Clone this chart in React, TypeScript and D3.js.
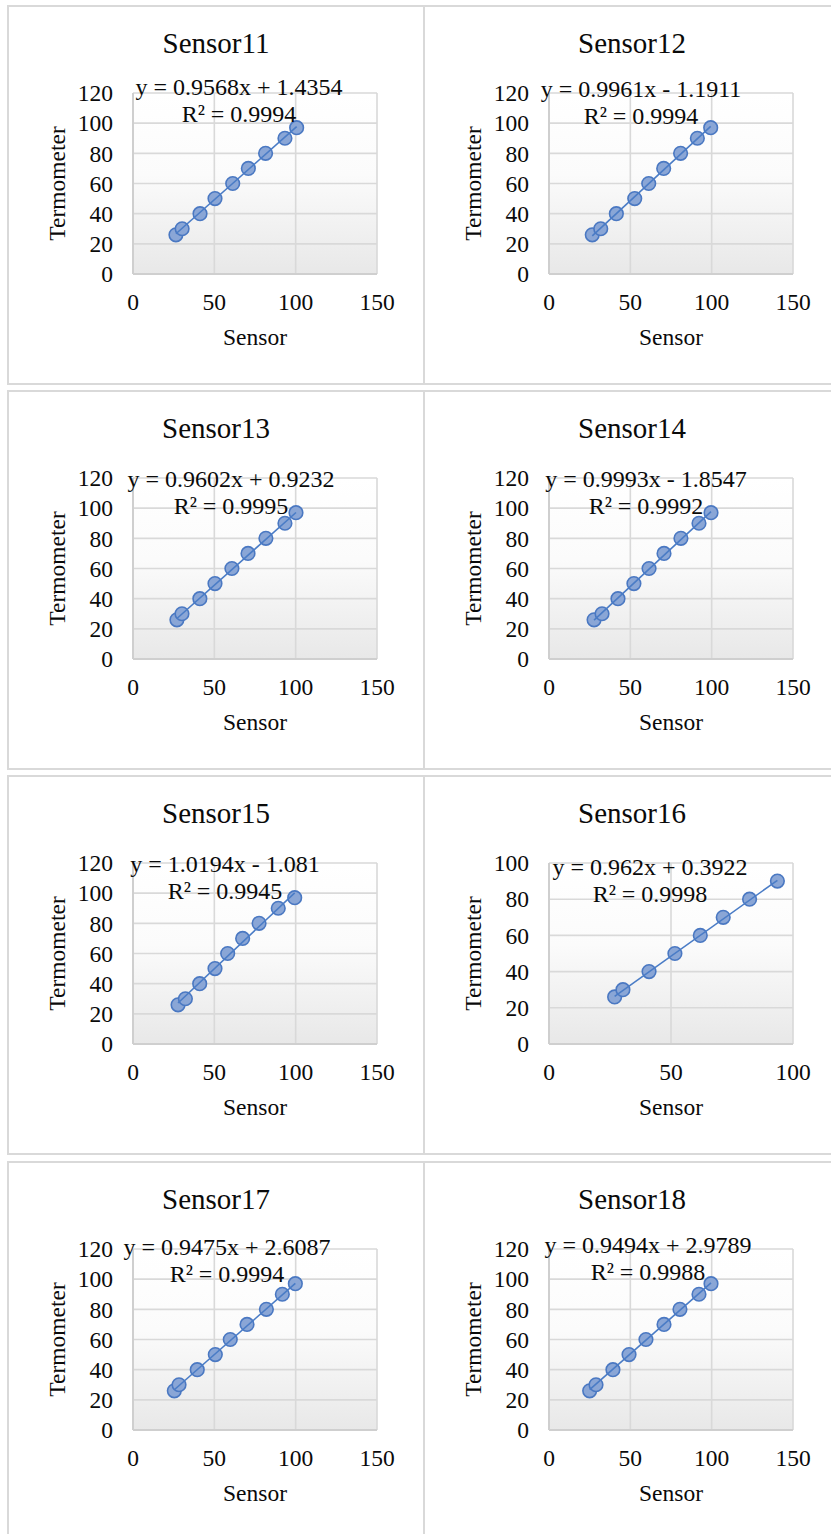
import * as d3 from "d3";

/* ------------------------------------------------------------------ */
/*  Data                                                               */
/* ------------------------------------------------------------------ */

const SENSOR_NAMES = [
  "Sensor11", "Sensor12", "Sensor13", "Sensor14",
  "Sensor15", "Sensor16", "Sensor17", "Sensor18",
];

// thermometer readings (y)
const TERMO_9 = [26, 30, 40, 50, 60, 70, 80, 90, 97];
const TERMO_8 = [26, 30, 40, 50, 60, 70, 80, 90];

// sensor readings (x)
const SENSOR11 = [26.4, 30.2, 41.2, 50.4, 61.3, 70.9, 81.5, 93.4, 100.6];
const SENSOR12 = [26.6, 31.8, 41.4, 52.7, 61.3, 70.5, 80.9, 91.2, 99.4];
const SENSOR13 = [27.0, 30.1, 41.1, 50.4, 60.8, 70.7, 81.7, 93.4, 100.2];
const SENSOR14 = [27.7, 32.6, 42.4, 52.2, 61.5, 70.7, 81.1, 92.2, 99.6];
const SENSOR15 = [27.7, 32.2, 41.0, 50.4, 58.2, 67.4, 77.5, 89.3, 99.4];
const SENSOR16 = [26.9, 30.3, 41.0, 51.6, 62.0, 71.4, 82.2, 93.6];
const SENSOR17 = [25.4, 28.3, 39.5, 50.6, 59.8, 70.1, 82.0, 91.8, 99.8];
const SENSOR18 = [25.0, 28.9, 39.3, 49.2, 59.6, 70.7, 80.5, 92.2, 99.6];

const SENSOR_X = [
  SENSOR11, SENSOR12, SENSOR13, SENSOR14,
  SENSOR15, SENSOR16, SENSOR17, SENSOR18,
];
const TERMO_Y = [
  TERMO_9, TERMO_9, TERMO_9, TERMO_9,
  TERMO_9, TERMO_8, TERMO_9, TERMO_9,
];

// linear trendlines
const SLOPES = [0.9568, 0.9961, 0.9602, 0.9993, 1.0194, 0.962, 0.9475, 0.9494];
const INTERCEPTS = [1.4354, -1.1911, 0.9232, -1.8547, -1.081, 0.3922, 2.6087, 2.9789];
const EQUATIONS = [
  "y = 0.9568x + 1.4354",
  "y = 0.9961x - 1.1911",
  "y = 0.9602x + 0.9232",
  "y = 0.9993x - 1.8547",
  "y = 1.0194x - 1.081",
  "y = 0.962x + 0.3922",
  "y = 0.9475x + 2.6087",
  "y = 0.9494x + 2.9789",
];
const R_SQUARED = [
  "R² = 0.9994", "R² = 0.9994", "R² = 0.9995", "R² = 0.9992",
  "R² = 0.9945", "R² = 0.9998", "R² = 0.9994", "R² = 0.9988",
];

// axis maxima (ticks every 50 on x, every 20 on y)
const X_MAX = [150, 150, 150, 150, 150, 100, 150, 150];
const Y_MAX = [120, 120, 120, 120, 120, 100, 120, 120];

/* ------------------------------------------------------------------ */
/*  Layout / theme                                                     */
/* ------------------------------------------------------------------ */

const W = 831;
const H = 1534;
const FONT = '"Liberation Serif", "Times New Roman", Tinos, "DejaVu Serif", serif';
const BORDER = "#d9d9d9";
const GRID = "#d9d9d9";
const MARK_FILL = "#8aa6d6";
const MARK_STROKE = "#4a78c2";
const LINE = "#4a7cc6";
const INK = "#0a0a0a";
const FS = 23.5;

const COL_X = [8, 424];
const ROW_Y = [6, 391, 776, 1162];
const PANEL_W = 416;
const PANEL_H = 378;

// plot area in panel-local coords
const PL = 125;
const PR = 369;
const PT = 87;
const PB = 268;

// equation label [centerX, baseline of first line], panel-local
const LABEL_POS: [number, number][] = [
  [231, 89], [217, 91], [223, 96], [222, 96],
  [217, 96], [226, 99], [219, 93], [224, 91],
];

/* ------------------------------------------------------------------ */
/*  Panel                                                              */
/* ------------------------------------------------------------------ */

function Panel({ i }: { i: number }) {
  const col = i % 2;
  const row = Math.floor(i / 2);
  const ox = COL_X[col];
  const oy = ROW_Y[row];

  const xs = SENSOR_X[i];
  const ys = TERMO_Y[i];

  const x = d3.scaleLinear().domain([0, X_MAX[i]]).range([PL, PR]);
  const y = d3.scaleLinear().domain([0, Y_MAX[i]]).range([PB, PT]);
  const xTicks = d3.range(0, X_MAX[i] + 1, 50);
  const yTicks = d3.range(0, Y_MAX[i] + 1, 20);

  const [xMin, xMaxData] = d3.extent(xs) as [number, number];
  const trend = d3
    .line<number>()
    .x((d) => x(d))
    .y((d) => y(SLOPES[i] * d + INTERCEPTS[i]));

  const [lx, ly] = LABEL_POS[i];
  const gradId = `plotbg-${i}`;
  const h = row === 3 ? H - oy + 10 : PANEL_H;

  return (
    <g transform={`translate(${ox},${oy})`}>
      <defs>
        <linearGradient id={gradId} x1="0" y1="0" x2="0" y2="1">
          <stop offset="0%" stopColor="#ffffff" />
          <stop offset="45%" stopColor="#fbfbfb" />
          <stop offset="100%" stopColor="#e8e8e8" />
        </linearGradient>
      </defs>

      {/* panel frame */}
      <rect x={0} y={0} width={PANEL_W} height={h} fill="#fff" stroke={BORDER} strokeWidth={2} />

      {/* title */}
      <text x={208} y={47} textAnchor="middle" style={{ fontSize: 29 }}>
        {SENSOR_NAMES[i]}
      </text>

      {/* plot area */}
      <rect x={PL} y={PT} width={PR - PL} height={PB - PT} fill={`url(#${gradId})`} />

      {/* gridlines */}
      {yTicks.map((t) => (
        <line key={`gy${t}`} x1={PL} x2={PR} y1={y(t)} y2={y(t)} stroke={GRID} strokeWidth={1.6} />
      ))}
      {xTicks.map((t) => (
        <line key={`gx${t}`} x1={x(t)} x2={x(t)} y1={PT} y2={PB} stroke={GRID} strokeWidth={1.6} />
      ))}
      {/* axis lines */}
      <line x1={PL} x2={PR} y1={PB} y2={PB} stroke="#cfcfcf" strokeWidth={2} />
      <line x1={PL} x2={PL} y1={PT} y2={PB} stroke="#cfcfcf" strokeWidth={2} />

      {/* tick labels */}
      {yTicks.map((t) => (
        <text key={`ly${t}`} x={PL - 20} y={y(t)} dy="0.35em" textAnchor="end">
          {t}
        </text>
      ))}
      {xTicks.map((t) => (
        <text key={`lx${t}`} x={x(t)} y={PB + 36} textAnchor="middle">
          {t}
        </text>
      ))}

      {/* axis titles */}
      <text x={(PL + PR) / 2} y={PB + 71} textAnchor="middle">
        Sensor
      </text>
      <text
        transform={`translate(${49},${(PT + PB) / 2}) rotate(-90)`}
        dy="0.35em"
        textAnchor="middle"
      >
        Termometer
      </text>

      {/* markers */}
      {xs.map((v, k) => (
        <circle
          key={`m${k}`}
          cx={x(v)}
          cy={y(ys[k])}
          r={6.8}
          fill={MARK_FILL}
          stroke={MARK_STROKE}
          strokeWidth={1.6}
        />
      ))}

      {/* trendline */}
      <path d={trend([xMin, xMaxData]) ?? ""} fill="none" stroke={LINE} strokeWidth={1.6} />

      {/* equation */}
      <text x={lx} y={ly} textAnchor="middle" style={{ fontSize: 24 }}>
        {EQUATIONS[i]}
      </text>
      <text x={lx} y={ly + 27} textAnchor="middle" style={{ fontSize: 24 }}>
        {R_SQUARED[i]}
      </text>
    </g>
  );
}

export default function App() {
  return (
    <div style={{ position: "absolute", left: 0, top: 0, width: W, height: H, overflow: "hidden", background: "#fff" }}>
      <svg
        width={W}
        height={H}
        style={{ display: "block", fontFamily: FONT, fontSize: FS, fill: INK }}
      >
        <rect width={W} height={H} fill="#fff" />
        {SENSOR_NAMES.map((_, i) => (
          <Panel key={i} i={i} />
        ))}
      </svg>
    </div>
  );
}
